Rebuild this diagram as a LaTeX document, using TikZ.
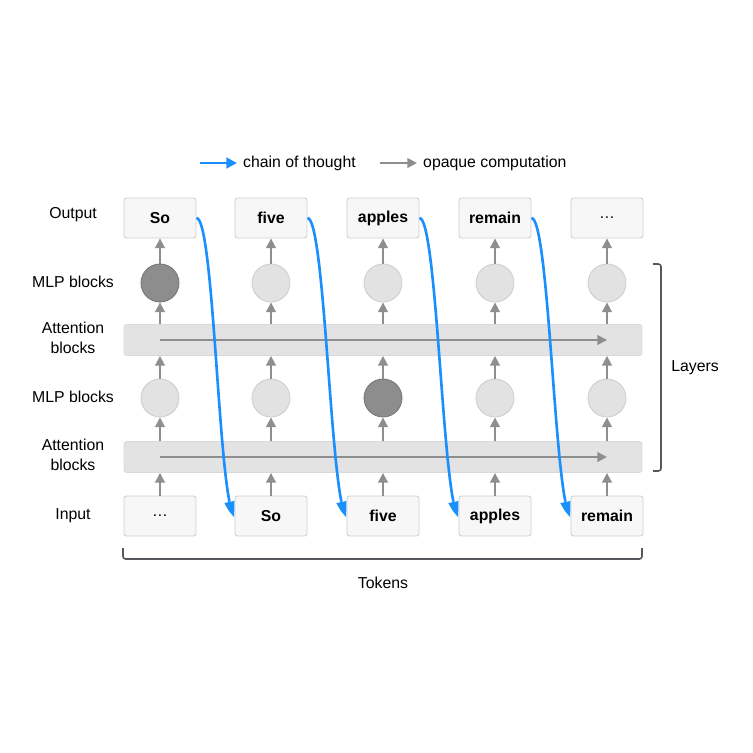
\documentclass[tikz,border=0pt]{standalone}
\usepackage{fontspec}
\setmainfont{Liberation Sans}
\usetikzlibrary{arrows.meta,bending,calc}

\definecolor{cotblue}{HTML}{1A8FFF}
\definecolor{opgray}{HTML}{8E8E8E}
\definecolor{boxfill}{HTML}{F7F7F7}
\definecolor{boxline}{HTML}{CFCFCF}
\definecolor{barfill}{HTML}{E3E3E3}
\definecolor{mlpfill}{HTML}{E2E2E2}
\definecolor{mlpdark}{HTML}{8D8D8D}
\definecolor{brace}{HTML}{55575C}

\tikzset{
    token/.style={draw=boxline, fill=boxfill, rounded corners=1.5pt, line width=0.5pt,
        minimum width=1.44cm, minimum height=0.8cm, font=\fontsize{9}{10}\selectfont\bfseries},
    mlp/.style={circle, draw=boxline, fill=mlpfill, line width=0.5pt, minimum size=0.76cm, inner sep=0pt},
    mlpon/.style={mlp, fill=mlpdark, draw=mlpdark!85!black},
    attn/.style={draw=boxline!80!white, fill=barfill, rounded corners=1.5pt, line width=0.5pt,
        minimum width=10.36cm, minimum height=0.62cm},
    lbl/.style={font=\fontsize{9}{11}\selectfont, align=center},
    opaque/.style={draw=opgray, line width=1.1pt, -{Triangle[length=5.5pt, width=5.5pt]}},
    cot/.style={draw=cotblue, line width=1.5pt, -{Triangle[length=6pt, width=6pt, bend]}},
    bracket/.style={draw=brace, line width=0.9pt, rounded corners=1.5pt},
}

\begin{document}
\begin{tikzpicture}[x=0.02cm, y=-0.02cm]
    \useasboundingbox (0,0) rectangle (753,753);

    % legend
    \coordinate (cota) at (200,163);
    \coordinate (cotb) at (237,163);
    \coordinate (opa) at (380,163);
    \coordinate (opb) at (417,163);
    \draw[cot] (cota) -- (cotb);
    \node[lbl, anchor=west] (cotlbl) at (237,163) {chain of thought};
    \draw[opaque] (opa) -- (opb);
    \node[lbl, anchor=west] (oplbl) at (417,163) {opaque computation};

    % row labels
    \node[lbl] (lout) at (73,215) {Output};
    \node[lbl] (lmlp2) at (73,282) {MLP blocks};
    \node[lbl] (latt2) at (73,338) {Attention\\blocks};
    \node[lbl] (lmlp1) at (73,397) {MLP blocks};
    \node[lbl] (latt1) at (73,455) {Attention\\blocks};
    \node[lbl] (lin) at (73,516) {Input};

    % attention blocks
    \node[attn] (att1) at (383,457) {};
    \node[attn] (att2) at (383,340) {};

    % input tokens
    \node[token, font=\fontsize{9}{10}\selectfont] (i1) at (160,516) {\dots};
    \node[token] (i2) at (271,516) {So};
    \node[token] (i3) at (383,516) {five};
    \node[token] (i4) at (495,516) {apples};
    \node[token] (i5) at (607,516) {remain};

    % first MLP row
    \node[mlp] (m1a) at (160,398) {};
    \node[mlp] (m1b) at (271,398) {};
    \node[mlpon] (m1c) at (383,398) {};
    \node[mlp] (m1d) at (495,398) {};
    \node[mlp] (m1e) at (607,398) {};

    % second MLP row
    \node[mlpon] (m2a) at (160,283) {};
    \node[mlp] (m2b) at (271,283) {};
    \node[mlp] (m2c) at (383,283) {};
    \node[mlp] (m2d) at (495,283) {};
    \node[mlp] (m2e) at (607,283) {};

    % output tokens
    \node[token] (o1) at (160,218) {So};
    \node[token] (o2) at (271,218) {five};
    \node[token] (o3) at (383,218) {apples};
    \node[token] (o4) at (495,218) {remain};
    \node[token, font=\fontsize{9}{10}\selectfont] (o5) at (607,218) {\dots};

    % opaque computation, upwards
    \draw[opaque] (i1.north) -- (i1 |- att1.south);
    \draw[opaque] (i2.north) -- (i2 |- att1.south);
    \draw[opaque] (i3.north) -- (i3 |- att1.south);
    \draw[opaque] (i4.north) -- (i4 |- att1.south);
    \draw[opaque] (i5.north) -- (i5 |- att1.south);

    \draw[opaque] (m1a |- att1.north) -- (m1a.south);
    \draw[opaque] (m1b |- att1.north) -- (m1b.south);
    \draw[opaque] (m1c |- att1.north) -- (m1c.south);
    \draw[opaque] (m1d |- att1.north) -- (m1d.south);
    \draw[opaque] (m1e |- att1.north) -- (m1e.south);

    \draw[opaque] (m1a.north) -- (m1a |- att2.south);
    \draw[opaque] (m1b.north) -- (m1b |- att2.south);
    \draw[opaque] (m1c.north) -- (m1c |- att2.south);
    \draw[opaque] (m1d.north) -- (m1d |- att2.south);
    \draw[opaque] (m1e.north) -- (m1e |- att2.south);

    \draw[opaque] (m2a |- att2.north) -- (m2a.south);
    \draw[opaque] (m2b |- att2.north) -- (m2b.south);
    \draw[opaque] (m2c |- att2.north) -- (m2c.south);
    \draw[opaque] (m2d |- att2.north) -- (m2d.south);
    \draw[opaque] (m2e |- att2.north) -- (m2e.south);

    \draw[opaque] (m2a.north) -- (o1.south);
    \draw[opaque] (m2b.north) -- (o2.south);
    \draw[opaque] (m2c.north) -- (o3.south);
    \draw[opaque] (m2d.north) -- (o4.south);
    \draw[opaque] (m2e.north) -- (o5.south);

    % opaque computation, across the attention blocks
    \draw[opaque] (i1 |- att1) -- (i5 |- att1);
    \draw[opaque] (i1 |- att2) -- (i5 |- att2);

    % chain of thought
    \draw[cot] (o1.east) .. controls +(18,0) and +(-16,-12) .. (i2.west);
    \draw[cot] (o2.east) .. controls +(18,0) and +(-16,-12) .. (i3.west);
    \draw[cot] (o3.east) .. controls +(18,0) and +(-16,-12) .. (i4.west);
    \draw[cot] (o4.east) .. controls +(18,0) and +(-16,-12) .. (i5.west);

    % brackets
    \draw[bracket] (653,264) -- (661,264) -- (661,471) -- (653,471);
    \node[lbl] (layers) at (695,368) {Layers};
    \draw[bracket] (123,548) -- (123,559) -- (642,559) -- (642,548);
    \node[lbl] (tokens) at (383,583) {Tokens};
\end{tikzpicture}
\end{document}
